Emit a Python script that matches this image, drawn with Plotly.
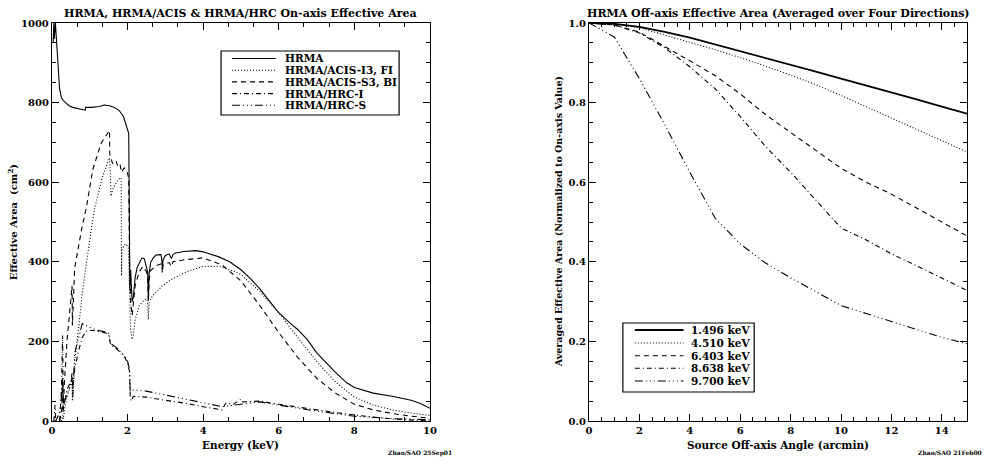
import plotly.graph_objects as go

# ---------------- data: left panel (on-axis effective area, cm^2) ----------------
E_hrma = [0.03,0.05,0.06,0.07,0.08,0.09,0.10,0.12,0.15,0.18,0.20,0.25,0.30,0.38,0.45,0.55,0.68,0.82,0.88,0.89,
          1.04,1.15,1.26,1.38,1.52,1.65,1.78,1.89,1.97,2.03,2.04,2.06,2.08,2.10,2.12,2.15,2.20,2.25,2.31,2.38,
          2.44,2.50,2.53,2.55,2.57,2.61,2.68,2.75,2.88,2.90,2.92,2.94,3.00,3.10,3.16,3.20,3.27,3.50,3.80,4.00,
          4.40,4.70,5.00,5.25,5.50,5.75,6.00,6.30,6.50,6.75,7.00,7.50,7.80,8.00,8.50,9.00,9.50,9.75,10.0]
A_hrma = [950,1000,960,1000,970,1000,985,950,900,855,835,812,805,798,792,788,786,782,781,788,
          788,789,790,794,792,788,780,765,744,723,600,330,380,350,300,310,360,385,398,410,
          408,390,375,305,370,398,410,417,418,410,385,405,416,420,408,418,422,426,428,425,
          413,400,380,358,332,302,272,246,230,205,172,122,96,84,70,62,52,44,32]

E_i3 = [0.25,0.28,0.30,0.35,0.40,0.45,0.50,0.53,0.54,0.56,0.60,0.70,0.80,0.90,1.00,1.12,1.34,1.45,1.52,1.54,
        1.56,1.62,1.69,1.76,1.83,1.84,1.85,1.90,1.95,2.02,2.05,2.08,2.12,2.15,2.20,2.31,2.40,2.48,2.53,2.55,
        2.57,2.66,2.80,2.92,3.18,3.54,3.97,4.41,4.85,5.0,5.5,6.0,6.5,7.0,7.5,8.0,8.5,9.0,9.5,10.0]
A_i3 = [0,15,5,40,60,75,95,110,50,90,150,230,320,390,455,532,615,645,661,640,
        565,585,598,608,611,365,430,440,445,435,300,230,205,215,255,290,300,307,300,255,
        298,315,328,340,357,374,388,389,375,368,325,272,210,150,98,60,40,28,20,14]

E_s3 = [0.20,0.25,0.27,0.28,0.29,0.30,0.33,0.36,0.40,0.45,0.50,0.52,0.53,0.54,0.56,0.60,0.64,0.70,0.80,0.90,
        1.08,1.30,1.45,1.50,1.52,1.53,1.60,1.66,1.70,1.74,1.80,1.84,1.91,1.99,2.03,2.05,2.08,2.12,2.15,2.20,
        2.31,2.40,2.50,2.53,2.55,2.57,2.61,2.75,2.90,2.92,2.94,3.10,3.16,3.20,3.50,4.00,4.50,5.00,5.50,6.00,
        6.50,7.00,7.50,8.00,8.50,9.00,9.50,10.0]
A_s3 = [0,20,60,110,20,30,100,150,205,255,310,330,340,240,300,385,405,440,490,532,
        632,698,722,728,730,670,648,645,652,640,645,625,636,625,610,420,300,265,290,340,
        375,388,375,360,300,355,378,390,395,372,392,398,388,400,405,410,392,352,290,222,
        160,108,70,42,28,19,12,7]

E_hrci = [0.05,0.08,0.10,0.20,0.25,0.28,0.30,0.35,0.40,0.50,0.53,0.55,0.60,0.70,0.80,0.90,1.00,1.20,1.40,1.50,
          1.55,1.70,1.90,2.00,2.05,2.07,2.10,2.15,2.50,3.00,3.50,4.00,4.50,4.60,4.80,5.00,5.05,5.50,6.00,7.00,
          8.00,9.00,10.0]
A_hrci = [0,40,0,0,80,215,30,60,80,100,120,80,130,175,210,225,228,226,222,218,
          192,182,165,145,125,60,50,62,60,52,45,36,28,45,42,55,48,50,42,28,
          15,5,0]

E_hrcs = [0.05,0.10,0.20,0.25,0.28,0.30,0.40,0.50,0.53,0.55,0.60,0.70,0.80,0.90,1.00,1.20,1.40,1.50,1.55,1.70,
          1.90,2.00,2.05,2.07,2.10,2.50,3.00,3.50,4.00,4.50,5.00,5.50,6.00,7.00,8.00,9.00,10.0]
A_hrcs = [0,0,20,60,100,40,70,90,110,60,170,210,245,240,235,228,224,220,195,185,
          165,150,130,75,78,75,65,55,45,36,42,48,40,25,12,6,3]

left_names = ["HRMA", "HRMA/ACIS-I3, FI", "HRMA/ACIS-S3, BI", "HRMA/HRC-I", "HRMA/HRC-S"]

# ---------------- data: right panel (normalised off-axis area) ----------------
offaxis = [0, 1, 2, 3, 4, 5, 6, 7, 8, 9, 10, 11, 12, 13, 14, 15]
r_1496 = [1.0,0.998,0.99,0.978,0.963,0.946,0.93,0.913,0.896,0.878,0.86,0.843,0.826,0.808,0.79,0.772]
r_4510 = [1.0,0.998,0.988,0.97,0.952,0.933,0.913,0.892,0.869,0.845,0.818,0.79,0.762,0.733,0.704,0.676]
r_6403 = [1.0,0.995,0.977,0.942,0.905,0.868,0.822,0.77,0.725,0.68,0.635,0.6,0.57,0.535,0.5,0.465]
r_8638 = [1.0,0.995,0.975,0.938,0.89,0.835,0.765,0.69,0.625,0.555,0.485,0.455,0.42,0.39,0.36,0.328]
r_9700 = [1.0,0.965,0.86,0.745,0.625,0.51,0.445,0.397,0.36,0.325,0.29,0.27,0.25,0.23,0.21,0.194]
right_names = ["1.496 keV", "4.510 keV", "6.403 keV", "8.638 keV", "9.700 keV"]

# ---------------- styles ----------------
DASHES = ["solid", "1px,2px", "5px,4px", "5px,3px,1px,3px", "8px,3px,1px,3px,1px,3px,1px,3px"]
FONT = "DejaVu Serif"
W, H = 986, 465
L, R, T, B = 52, 972, 23, 421


def px(x):
    return (x - L) / (R - L)


def py(y):
    return (B - y) / (B - T)


fig = go.Figure()

left_x = [E_hrma, E_i3, E_s3, E_hrci, E_hrcs]
left_y = [A_hrma, A_i3, A_s3, A_hrci, A_hrcs]
for xs, ys, nm, d in zip(left_x, left_y, left_names, DASHES):
    fig.add_trace(go.Scatter(x=xs, y=ys, name=nm, mode="lines", xaxis="x", yaxis="y",
                             line=dict(color="black", width=1.1, dash=d), showlegend=False))

right_y = [r_1496, r_4510, r_6403, r_8638, r_9700]
right_w = [1.8, 1.1, 1.1, 1.1, 1.1]
for ys, nm, d, w in zip(right_y, right_names, DASHES, right_w):
    fig.add_trace(go.Scatter(x=offaxis, y=ys, name=nm, mode="lines", xaxis="x2", yaxis="y2",
                             line=dict(color="black", width=w, dash=d), showlegend=False))

axis_common = dict(showline=True, linecolor="black", linewidth=1.3, mirror="allticks",
                   ticks="inside", ticklen=7, tickwidth=1.2, tickcolor="black",
                   showgrid=False, zeroline=False,
                   tickfont=dict(family=FONT, size=10, color="black", weight="bold"))

fig.update_layout(
    width=W, height=H, paper_bgcolor="white", plot_bgcolor="white",
    margin=dict(l=L, r=W - R, t=T, b=H - B),
    font=dict(family=FONT, color="black", weight="bold"),
    xaxis=dict(domain=[0, px(432)], range=[0, 10], dtick=2, tick0=0,
               minor=dict(dtick=2 / 3, tick0=0, ticks="inside", ticklen=4, tickcolor="black"),
               anchor="y", **axis_common),
    yaxis=dict(domain=[0, 1], range=[0, 1000], dtick=200, tick0=0,
               minor=dict(dtick=50, tick0=0, ticks="inside", ticklen=4, tickcolor="black"),
               anchor="x", **axis_common),
    xaxis2=dict(domain=[px(592), 1], range=[0, 15], dtick=2, tick0=0,
                minor=dict(dtick=0.5, tick0=0, ticks="inside", ticklen=4, tickcolor="black"),
                anchor="y2", **axis_common),
    yaxis2=dict(domain=[0, 1], range=[0, 1], dtick=0.2, tick0=0, tickformat=".1f",
                minor=dict(dtick=0.05, tick0=0, ticks="inside", ticklen=4, tickcolor="black"),
                anchor="x2", **axis_common),
)

ann = []


def text(x, y, s, size, xanchor="center", angle=0):
    ann.append(dict(x=px(x), y=py(y), xref="paper", yref="paper", text=s, showarrow=False,
                    xanchor=xanchor, yanchor="middle", textangle=angle,
                    font=dict(family=FONT, size=size, color="black", weight="bold")))


text(242, 13, "HRMA, HRMA/ACIS &amp; HRMA/HRC On-axis Effective Area", 11)
text(782, 13, "HRMA Off-axis Effective Area (Averaged over Four Directions)", 11)
text(242, 445, "Energy (keV)", 10.5)
text(782, 445, "Source Off-axis Angle (arcmin)", 10.5)
text(12, 222, "Effective Area  (cm<sup>2</sup>)", 10, angle=-90)
text(561, 222, "Averaged Effective Area (Normalized to On-axis Value)", 9.5, angle=-90)
text(388, 453, "Zhao/SAO 25Sep01", 6, xanchor="left")
text(921, 453, "Zhao/SAO 21Feb00", 6, xanchor="left")

shapes = []


def legend(box, x0, x1, tx, rows, names, widths, size):
    bx0, bx1, by0, by1 = box
    shapes.append(dict(type="rect", xref="paper", yref="paper", x0=px(bx0), x1=px(bx1),
                       y0=py(by1), y1=py(by0), line=dict(color="black", width=1.2),
                       fillcolor="white", layer="above"))
    for r, nm, d, w in zip(rows, names, DASHES, widths):
        shapes.append(dict(type="line", xref="paper", yref="paper", x0=px(x0), x1=px(x1),
                           y0=py(r), y1=py(r), line=dict(color="black", width=w, dash=d),
                           layer="above"))
        text(tx, r, nm, size, xanchor="left")


legend((222, 401, 51, 115), 233, 277, 284, [58.5, 70.2, 81.9, 93.6, 105.3],
       left_names, [1.1] * 5, 10.5)
legend((626, 758, 323, 392), 638, 687, 692, [330, 343, 355.7, 368.3, 381],
       right_names, right_w, 10.5)

fig.update_layout(annotations=ann, shapes=shapes)
fig.write_html("out.html")
